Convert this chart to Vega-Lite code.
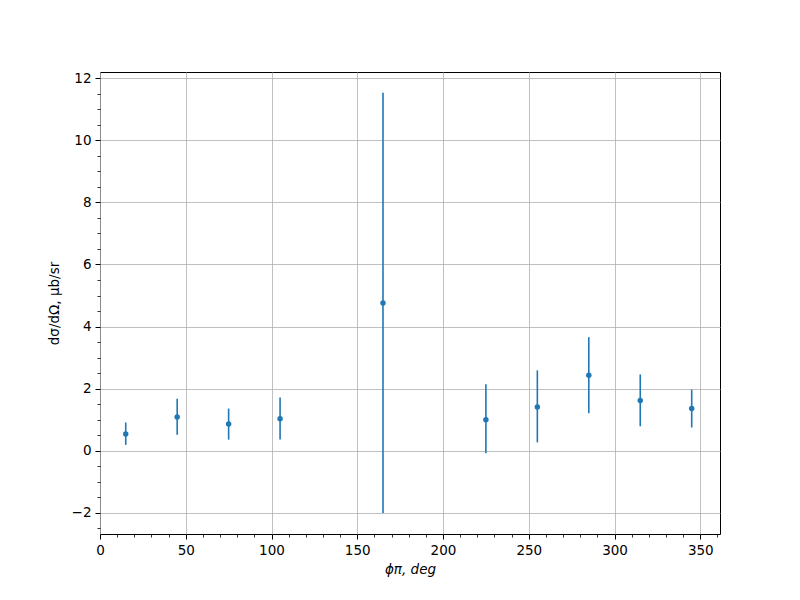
{
  "$schema": "https://vega.github.io/schema/vega-lite/v6.json",
  "autosize": "none",
  "width": 620,
  "height": 462,
  "padding": {"left": 100, "top": 72, "right": 80, "bottom": 66},
  "background": "white",
  "config": {
    "view": {"stroke": "black", "strokeWidth": 1},
    "font": "DejaVu Sans"
  },
  "data": {
    "values": [
      {"phi": 15, "y": 0.54, "lo": 0.19, "hi": 0.91},
      {"phi": 45, "y": 1.09, "lo": 0.52, "hi": 1.68},
      {"phi": 75, "y": 0.86, "lo": 0.36, "hi": 1.36},
      {"phi": 105, "y": 1.03, "lo": 0.36, "hi": 1.72},
      {"phi": 165, "y": 4.76, "lo": -2.0, "hi": 11.53},
      {"phi": 225, "y": 1.0, "lo": -0.08, "hi": 2.14},
      {"phi": 255, "y": 1.41, "lo": 0.27, "hi": 2.59},
      {"phi": 285, "y": 2.43, "lo": 1.21, "hi": 3.66},
      {"phi": 315, "y": 1.62, "lo": 0.79, "hi": 2.46},
      {"phi": 345, "y": 1.36, "lo": 0.75, "hi": 1.97}
    ]
  },
  "layer": [
    {
      "mark": {"type": "rule", "color": "#1f77b4", "strokeWidth": 1.6},
      "encoding": {
        "x": {
          "field": "phi", "type": "quantitative",
          "scale": {"domain": [0, 361.5], "nice": false, "zero": false},
          "axis": {
            "orient": "bottom",
            "values": [0, 50, 100, 150, 200, 250, 300, 350],
            "title": "ϕπ, deg",
            "titleFont": "DejaVu Sans", "titleFontStyle": "italic", "titleFontWeight": "normal",
            "titleFontSize": 13.5, "titleColor": "black", "titlePadding": 6,
            "labelFontSize": 13.5, "labelColor": "black", "labelPadding": 4,
            "labelFlush": false,
            "tickSize": 5, "tickColor": "black", "tickWidth": 1,
            "domain": false,
            "grid": true, "gridColor": "#b0b0b0", "gridWidth": 0.8
          }
        },
        "y": {
          "field": "lo", "type": "quantitative",
          "scale": {"domain": [-2.68, 12.2], "nice": false, "zero": false},
          "axis": {
            "orient": "left",
            "values": [-2, 0, 2, 4, 6, 8, 10, 12],
            "title": "dσ/dΩ, μb/sr",
            "titleFont": "DejaVu Sans", "titleFontWeight": "normal",
            "titleFontSize": 13.5, "titleColor": "black", "titlePadding": 10,
            "labelFontSize": 13.5, "labelColor": "black", "labelPadding": 4,
            "labelFlush": false,
            "tickSize": 5, "tickColor": "black", "tickWidth": 1,
            "domain": false,
            "grid": true, "gridColor": "#b0b0b0", "gridWidth": 0.8
          }
        },
        "y2": {"field": "hi"}
      }
    },
    {
      "mark": {"type": "point", "filled": true, "color": "#1f77b4", "size": 30, "opacity": 1},
      "encoding": {
        "x": {
          "field": "phi", "type": "quantitative",
          "axis": {
            "orient": "bottom",
            "values": [10, 20, 30, 40, 60, 70, 80, 90, 110, 120, 130, 140, 160, 170, 180, 190, 210, 220, 230, 240, 260, 270, 280, 290, 310, 320, 330, 340, 360],
            "title": null, "labels": false, "domain": false, "grid": false,
            "tickSize": 3, "tickColor": "black", "tickWidth": 0.8
          }
        },
        "y": {
          "field": "y", "type": "quantitative",
          "axis": {
            "orient": "left",
            "values": [-2.5, -1.5, -1, -0.5, 0.5, 1, 1.5, 2.5, 3, 3.5, 4.5, 5, 5.5, 6.5, 7, 7.5, 8.5, 9, 9.5, 10.5, 11, 11.5],
            "title": null, "labels": false, "domain": false, "grid": false,
            "tickSize": 3, "tickColor": "black", "tickWidth": 0.8
          }
        }
      }
    }
  ],
  "resolve": {"axis": {"x": "independent", "y": "independent"}}
}
